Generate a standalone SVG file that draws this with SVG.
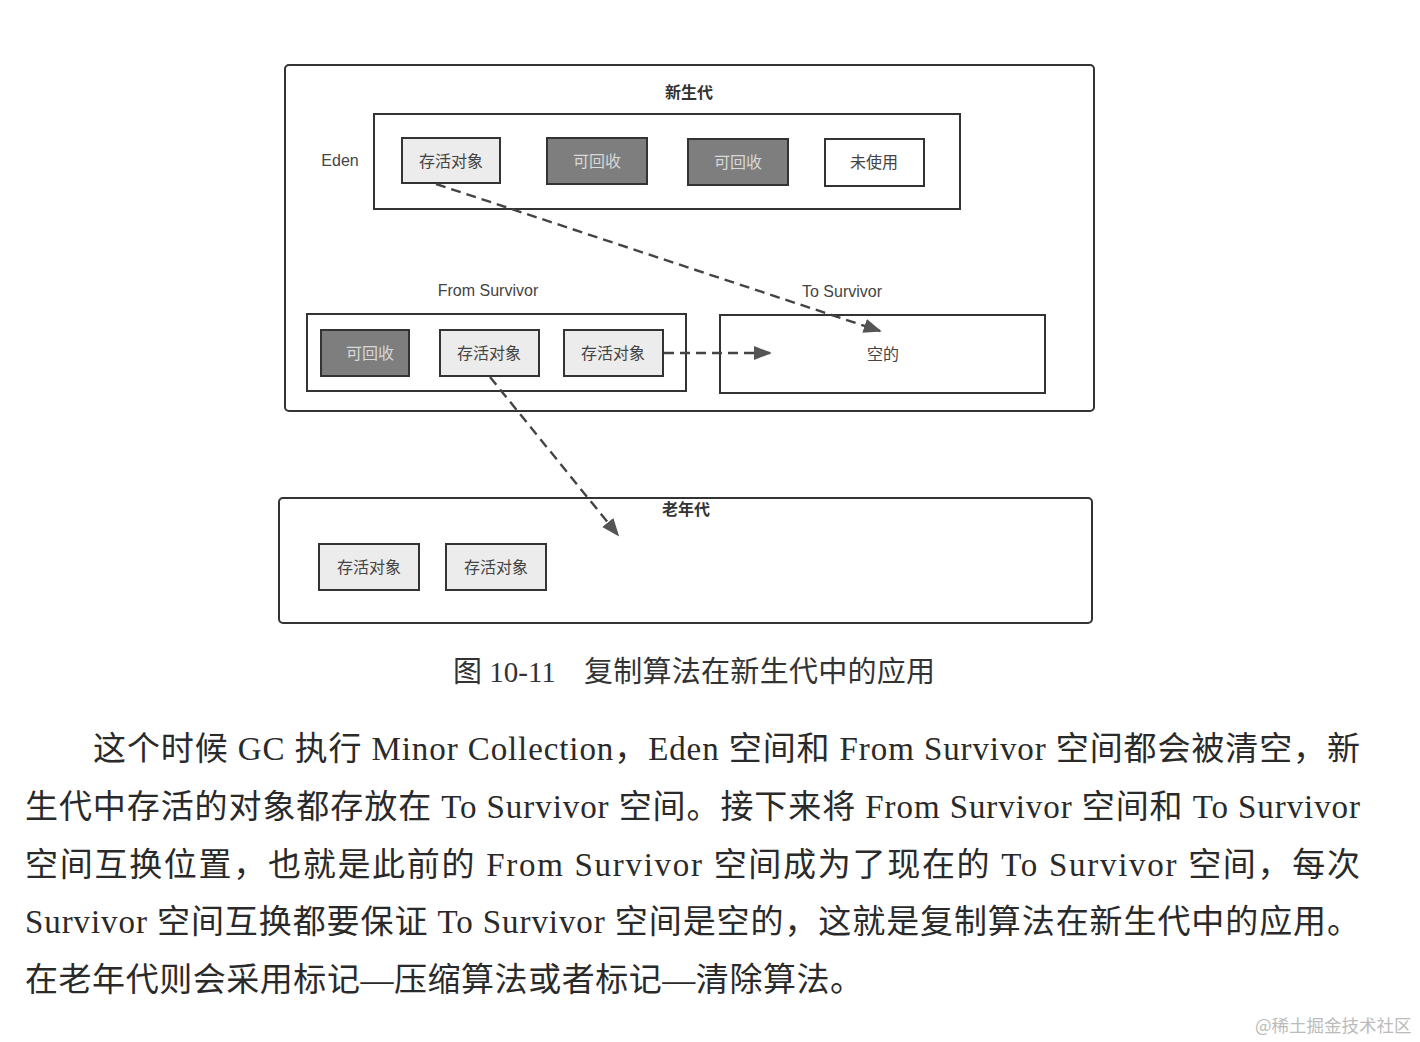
<svg xmlns="http://www.w3.org/2000/svg" width="1420" height="1042" viewBox="0 0 1420 1042">
<defs>
<style>
.frame{fill:#fff;stroke:#333;stroke-width:2}
.live{fill:#ececec;stroke:#333;stroke-width:2}
.dead{fill:#7e7e7e;stroke:#333;stroke-width:2}
.free{fill:#fff;stroke:#333;stroke-width:2}
.lbl{font-family:"Liberation Sans","Noto Sans CJK SC",sans-serif;font-size:16px;fill:#444;text-anchor:middle;dominant-baseline:central}
.lbld{font-family:"Liberation Sans","Noto Sans CJK SC",sans-serif;font-size:16px;fill:#d8d8d8;text-anchor:middle;dominant-baseline:central}
.ttl{font-family:"Noto Sans CJK SC",sans-serif;font-size:16px;font-weight:bold;fill:#333;text-anchor:middle;dominant-baseline:central}
.conn{fill:none;stroke:#444;stroke-width:2.4;stroke-dasharray:10 6}
.cap{font-family:"Liberation Serif","Noto Sans CJK SC",serif;font-size:29px;fill:#333}
.para{font-family:"Liberation Serif","Noto Sans CJK SC",serif;font-size:33px;fill:#2a2a2a}
</style>
<marker id="ahb" viewBox="0 0 10 10" refX="9" refY="5" markerWidth="18" markerHeight="18" markerUnits="userSpaceOnUse" orient="auto">
<path d="M0,1 L10,5 L0,9 z" fill="#555"/>
</marker>
</defs>
<rect width="1420" height="1042" fill="#fff"/>

<g id="young">
<rect class="frame" x="285" y="65" width="809" height="346" rx="4"/>
<text class="ttl" x="689" y="91">新生代</text>
</g>
<g id="eden">
<rect class="frame" x="374" y="114" width="586" height="95"/>
<text class="lbl" x="340" y="160">Eden</text>
</g>
<g id="eden-live"><rect class="live" x="402" y="138" width="98" height="45"/><text class="lbl" x="451" y="161">存活对象</text></g>
<g id="eden-dead1"><rect class="dead" x="547" y="138" width="100" height="46"/><text class="lbld" x="597" y="161">可回收</text></g>
<g id="eden-dead2"><rect class="dead" x="688" y="139" width="100" height="46"/><text class="lbld" x="738" y="162">可回收</text></g>
<g id="eden-free"><rect class="free" x="825" y="139" width="99" height="47"/><text class="lbl" x="874" y="162">未使用</text></g>

<g id="from-survivor">
<rect class="frame" x="307" y="314" width="379" height="77"/>
<text class="lbl" x="488" y="290">From Survivor</text>
</g>
<g id="from-dead"><rect class="dead" x="321" y="330" width="88" height="46"/><text class="lbld" x="370" y="353">可回收</text></g>
<g id="from-live1"><rect class="live" x="440" y="330" width="99" height="46"/><text class="lbl" x="489" y="353">存活对象</text></g>
<g id="from-live2"><rect class="live" x="564" y="330" width="99" height="46"/><text class="lbl" x="613" y="353">存活对象</text></g>

<g id="to-survivor">
<rect class="frame" x="720" y="315" width="325" height="78"/>
<text class="lbl" x="842" y="291">To Survivor</text>
<text class="lbl" x="883" y="354">空的</text>
</g>

<g id="old">
<rect class="frame" x="279" y="498" width="813" height="125" rx="4"/>
<text class="ttl" x="686" y="508">老年代</text>
</g>
<g id="old-live1"><rect class="live" x="319" y="544" width="100" height="46"/><text class="lbl" x="369" y="567">存活对象</text></g>
<g id="old-live2"><rect class="live" x="446" y="544" width="100" height="46"/><text class="lbl" x="496" y="567">存活对象</text></g>

<g id="connectors">
<line class="conn" x1="436" y1="184" x2="880" y2="331" marker-end="url(#ahb)"/>
<line class="conn" x1="664" y1="353" x2="770" y2="353" marker-end="url(#ahb)"/>
<line class="conn" x1="490" y1="377" x2="618" y2="535" marker-end="url(#ahb)"/>
</g>

<text class="cap" x="453" y="682">图 10-11<tspan x="584" textLength="351" lengthAdjust="spacing">复制算法在新生代中的应用</tspan></text>

<g id="paragraph">
<text class="para" x="93" y="760" textLength="1267" lengthAdjust="spacing">这个时候 GC 执行 Minor Collection，Eden 空间和 From Survivor 空间都会被清空，新</text>
<text class="para" x="25" y="818" textLength="1335" lengthAdjust="spacing">生代中存活的对象都存放在 To Survivor 空间。接下来将 From Survivor 空间和 To Survivor</text>
<text class="para" x="25" y="876" textLength="1335" lengthAdjust="spacing">空间互换位置，也就是此前的 From Survivor 空间成为了现在的 To Survivor 空间，每次</text>
<text class="para" x="25" y="933" textLength="1335" lengthAdjust="spacing">Survivor 空间互换都要保证 To Survivor 空间是空的，这就是复制算法在新生代中的应用。</text>
<text class="para" x="25" y="991" textLength="838" lengthAdjust="spacing">在老年代则会采用标记—压缩算法或者标记—清除算法。</text>
</g>

<text x="1255" y="1032" style="font-family:'Noto Sans CJK SC',sans-serif;font-size:17.5px;fill:#bbb">@稀土掘金技术社区</text>
</svg>
